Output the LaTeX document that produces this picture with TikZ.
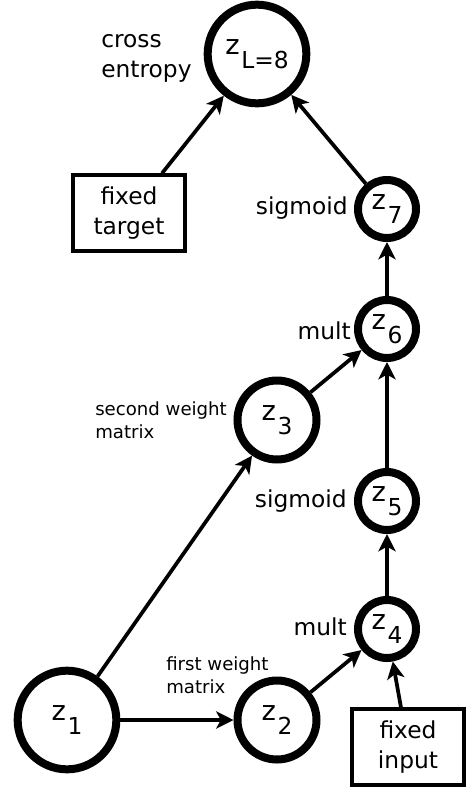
\documentclass[tikz,border=0pt]{standalone}
\usepackage{fontspec}
\setmainfont{DejaVu Sans}
\usetikzlibrary{arrows.meta}
\begin{document}
\begin{tikzpicture}[x=0.75pt,y=-0.75pt,
  every node/.style={font=\fontsize{17.5}{22.5}\selectfont},
  var/.style={circle,draw,line width=6pt,inner sep=0pt},
  bigvar/.style={var,minimum size=74pt},
  midvar/.style={var,minimum size=59.25pt},
  smallvar/.style={var,minimum size=43.5pt},
  fixedbox/.style={draw,line width=3pt,minimum width=83.5pt,minimum height=56.5pt,align=center,inner sep=0pt},
  oplabel/.style={anchor=base east,inner sep=0pt},
  note/.style={anchor=base west,inner sep=0pt,align=left},
  smallnote/.style={anchor=base west,inner sep=0pt,align=left,font=\fontsize{13.6}{17.25}\selectfont},
  edge/.style={line width=2.8pt,-{Stealth[length=13pt,width=13pt,inset=3.5pt]}}]
\useasboundingbox (0,0) rectangle (470,789);
% variable name: a large z with its index set lower at text size
\newcommand{\zsub}[1]{{\fontsize{20.5}{24}\selectfont z}\kern1.2pt\raisebox{-10.9pt}{#1}}

% variables of the computation graph
\node[bigvar]   (zL) at (257,54)  {\zsub{L=8}};
\node[smallvar] (z7) at (387,209) {\zsub{7}};
\node[smallvar] (z6) at (387,329) {\zsub{6}};
\node[midvar]   (z3) at (277,420) {\zsub{3}};
\node[smallvar] (z5) at (387,501) {\zsub{5}};
\node[smallvar] (z4) at (387,629) {\zsub{4}};
\node[bigvar]   (z1) at (67,720)  {\zsub{1}};
\node[midvar]   (z2) at (277,720) {\zsub{2}};

% fixed quantities
\node[fixedbox] (ft) at (129,213) {fixed\\target};
\node[fixedbox] (fi) at (408,747) {fixed\\input};

% operation labels (multi-line notes are anchored at their last baseline)
\node[note] (ce) at (101,77) {cross\\entropy};
\node[oplabel] (s7) at (348,214) {sigmoid};
\node[oplabel] (m6) at (351,339) {mult};
\node[oplabel] (s5) at (347,507) {sigmoid};
\node[oplabel] (m4) at (347,635) {mult};
\node[smallnote] (w2) at (95,438) {second weight\\matrix};
\node[smallnote] (w1) at (166,693) {first weight\\matrix};

% connectors
\draw[edge] (z1) -- (z2);
\draw[edge] (z1) -- (z3);
\draw[edge] (z2) -- (z4);
\draw[edge] (fi) -- (z4);
\draw[edge] (z4) -- (z5);
\draw[edge] (z5) -- (z6);
\draw[edge] (z3) -- (z6);
\draw[edge] (z6) -- (z7);
\draw[edge] (z7) -- (zL);
\draw[edge] ([xshift=24.75pt]ft.north) -- (zL);
\end{tikzpicture}
\end{document}
